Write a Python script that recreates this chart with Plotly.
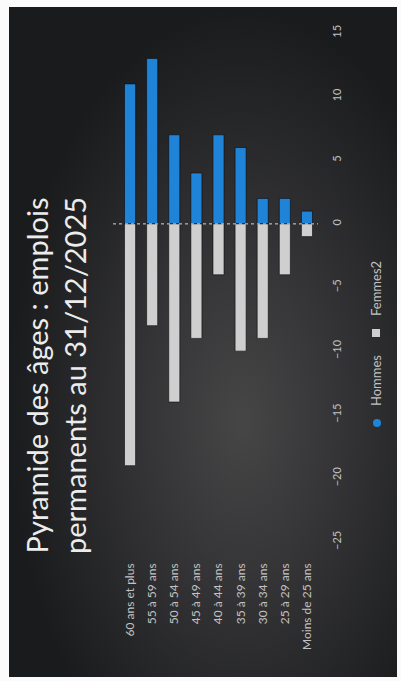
import base64
import plotly.graph_objects as go

# Age pyramid of permanent jobs at 31/12/2025
categories = ["60 ans et plus", "55 à 59 ans", "50 à 54 ans", "45 à 49 ans",
              "40 à 44 ans", "35 à 39 ans", "30 à 34 ans", "25 à 29 ans",
              "Moins de 25 ans"]
hommes = [11, 13, 7, 4, 7, 6, 2, 2, 1]
femmes = [-19, -8, -14, -9, -4, -10, -9, -4, -1]
value_ticks = [-25, -20, -15, -10, -5, 0, 5, 10, 15]

W, H = 401, 681
ML, MR, MT, MB = 119, 83, 33, 139
PW, PH = W - ML - MR, H - MT - MB


def px_x(px):
    return (px - ML) / PW


def px_y(py):
    return (H - MB - py) / PH


# dark backdrop with a soft radial glow
svg = """<svg xmlns='http://www.w3.org/2000/svg' width='388' height='670'>
<defs>
<radialGradient id='g' cx='0.6' cy='0.6' r='0.6' fx='0.6' fy='0.62'>
<stop offset='0' stop-color='#464647'/>
<stop offset='0.45' stop-color='#333335'/>
<stop offset='1' stop-color='#1a1b1d'/>
</radialGradient>
</defs>
<rect width='388' height='670' fill='url(#g)'/>
</svg>"""
bg_src = "data:image/svg+xml;base64," + base64.b64encode(svg.encode()).decode()

fig = go.Figure()
fig.add_trace(go.Bar(x=categories, y=hommes, name="Hommes",
                     marker=dict(color="#1f84d8",
                                 line=dict(width=1, color="rgba(10,10,12,0.6)"))))
fig.add_trace(go.Bar(x=categories, y=femmes, name="Femmes2",
                     marker=dict(color="#cfcfcf",
                                 line=dict(width=1, color="rgba(10,10,12,0.6)"))))

fig.update_layout(
    width=W, height=H,
    margin=dict(l=ML, r=MR, t=MT, b=MB),
    paper_bgcolor="#fbfbfb",
    plot_bgcolor="rgba(0,0,0,0)",
    barmode="relative",
    bargap=0.5,
    showlegend=False,
    font=dict(family="Lato, Open Sans, sans-serif", color="#c4c4c4"),
    xaxis=dict(
        type="category", tickangle=-90, showgrid=False, zeroline=False,
        showline=False, ticks="", ticklabelstandoff=18,
        tickfont=dict(size=12, color="#c2c2c2"),
    ),
    yaxis=dict(
        range=[-25, 15], tickvals=value_ticks, side="right", tickangle=-90,
        showgrid=False, zeroline=False, showline=False, ticks="",
        ticklabelstandoff=11, tickfont=dict(size=11, color="#c2c2c2"),
    ),
    images=[dict(source=bg_src, xref="paper", yref="paper",
                 x=px_x(9), y=px_y(7), sizex=388 / PW, sizey=670 / PH,
                 xanchor="left", yanchor="top", sizing="stretch",
                 layer="below")],
)

# category axis line at zero
fig.add_shape(type="line", xref="paper", yref="y", x0=px_x(113), x1=1.0,
              y0=0, y1=0, line=dict(color="#d6d6d6", width=1, dash="dot"))

# rotated title
fig.add_annotation(
    text="Pyramide des âges : emplois<br>permanents au 31/12/2025",
    xref="paper", yref="paper", x=px_x(55), y=px_y(376),
    xanchor="center", yanchor="middle", textangle=-90, showarrow=False,
    font=dict(size=29, color="#ececec", family="Lato, Open Sans, sans-serif"),
)

# rotated legend
fig.add_shape(type="circle", xref="paper", yref="paper",
              x0=px_x(373), x1=px_x(381), y0=px_y(427), y1=px_y(419),
              fillcolor="#1f84d8", line=dict(width=0))
fig.add_annotation(text="Hommes", xref="paper", yref="paper",
                   x=px_x(376), y=px_y(381), xanchor="center", yanchor="middle",
                   textangle=-90, showarrow=False,
                   font=dict(size=13, color="#c2c2c2"))
fig.add_shape(type="rect", xref="paper", yref="paper",
              x0=px_x(372), x1=px_x(380), y0=px_y(337), y1=px_y(329),
              fillcolor="#cfcfcf", line=dict(width=0))
fig.add_annotation(text="Femmes2", xref="paper", yref="paper",
                   x=px_x(376), y=px_y(289), xanchor="center", yanchor="middle",
                   textangle=-90, showarrow=False,
                   font=dict(size=13, color="#c2c2c2"))

fig.write_html("out.html")
